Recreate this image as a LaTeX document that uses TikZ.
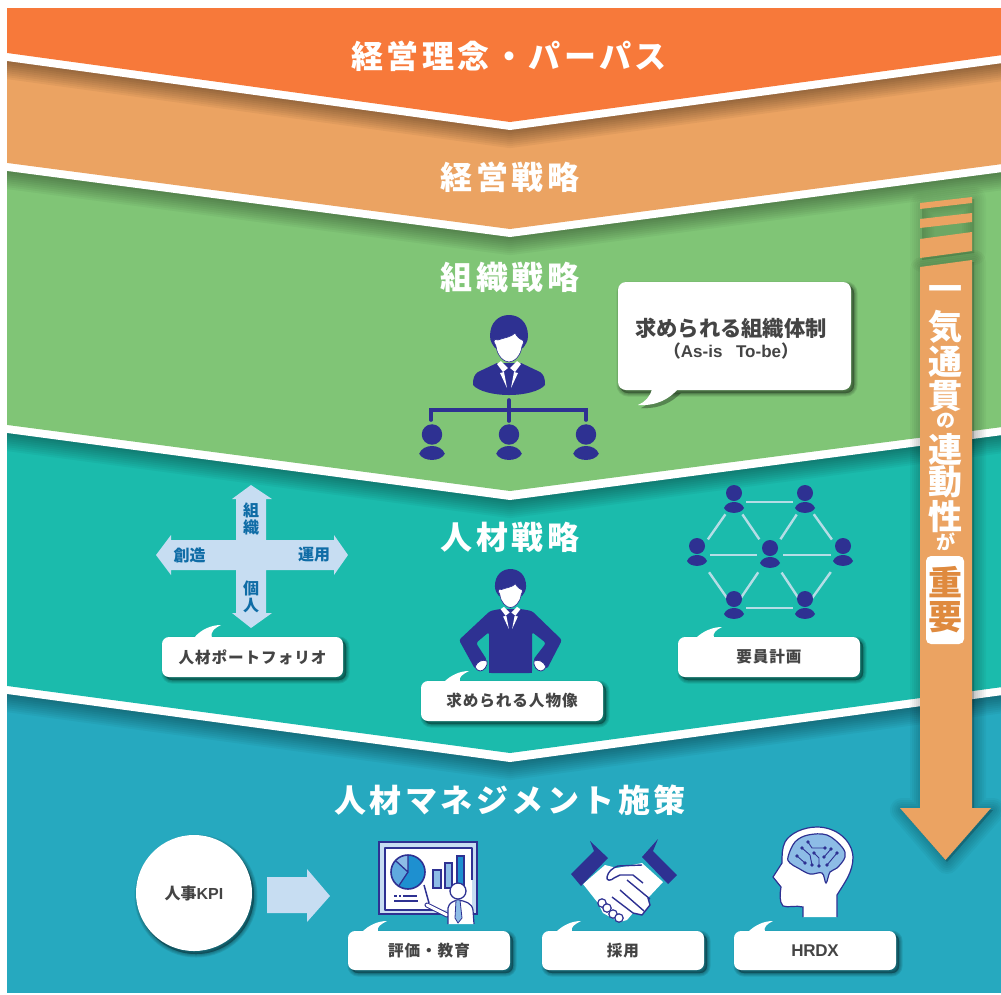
\documentclass[tikz,border=0pt]{standalone}
\usepackage{fontspec}
\newfontfamily\jp{Noto Sans CJK JP}
\newfontfamily\jps[LetterSpace=11]{Noto Sans CJK JP}
\newfontfamily\jpt[LetterSpace=6]{Noto Sans CJK JP}
\newfontfamily\lat{Liberation Sans}
\definecolor{cOrange}{HTML}{F7793A}
\definecolor{cSand}{HTML}{EBA362}
\definecolor{cGreen}{HTML}{80C576}
\definecolor{cTeal}{HTML}{1BBBAC}
\definecolor{cBlue}{HTML}{26A9BF}
\definecolor{cNavy}{HTML}{2E3192}
\definecolor{cPale}{HTML}{C7DDF2}
\definecolor{cInk}{HTML}{444444}
\definecolor{cCross}{HTML}{0F6CA6}
\definecolor{cKey}{HTML}{DF8A3E}
\definecolor{cLink}{HTML}{B5DDE6}
\definecolor{cBrain}{HTML}{8DBCE6}
\definecolor{cPie}{HTML}{1E90D0}
\definecolor{cPieB}{HTML}{5FA9DF}
\tikzset{
  title/.style={text=white,inner sep=0pt,font=\jps\bfseries\fontsize{32}{32}\selectfont},
  vchar/.style={text=white,inner sep=0pt,font=\jp\bfseries\fontsize{34}{34}\selectfont},
  vsmall/.style={text=white,inner sep=0pt,font=\jp\bfseries\fontsize{19}{19}\selectfont},
  crosstext/.style={text=cCross,inner sep=0pt,font=\jp\bfseries\fontsize{16}{16}\selectfont},
  cardtext/.style={text=cInk,inner sep=0pt,font=\jpt\bfseries},
  link/.style={cLink,line width=2.4pt},
  org/.style={cNavy,line width=3.6pt,line cap=round},
  thin/.style={cNavy,line width=1.3pt,line join=round},
  smallperson/.pic={
    \fill[cNavy] (0,-9) circle[radius=8];
    \fill[cNavy] (-10,6) .. controls (-7,-2) and (7,-2) .. (10,6) .. controls (7,12.5) and (-7,12.5) .. (-10,6) -- cycle;
  },
  exechead/.pic={
    \fill[cNavy] (-19,2) .. controls (-19,-12) and (-10,-19) .. (0,-19) .. controls (10,-19) and (19,-12) .. (19,2) .. controls (19,8) and (16,11) .. (14,14) -- (-14,14) .. controls (-16,11) and (-19,8) .. (-19,2) -- cycle;
    \fill[white,draw=cNavy,line width=.6pt] (-15,8) .. controls (-15,5) and (-13,5) .. (-11,6) .. controls (-6,4) and (3,3) .. (6,-1) .. controls (8,3) and (11,5) .. (13,6) .. controls (15,5) and (15,8) .. (14,10) -- (13,12) .. controls (12,22) and (5,28) .. (0,28) .. controls (-5,28) and (-12,22) .. (-13,12) -- cycle;
    \fill[white] (-12,30) -- (-8,27) -- (-1,34) -- (-6,38) -- cycle;
    \fill[white] (12,30) -- (8,27) -- (1,34) -- (6,38) -- cycle;
    \fill[white] (-9,39) -- (-5,38) -- (-2,54) -- cycle;
    \fill[white] (9,39) -- (5,38) -- (2,54) -- cycle;
  }
}
% name, cx, cy, w, h, tipx, tipy, b1, b2, font size, text
\newcommand\labelcard[9]{%
  \def\cardname{#1}\def\cardcx{#2}\def\cardcy{#3}\def\cardw{#4}\def\cardh{#5}%
  \def\cardtx{#6}\def\cardty{#7}\def\cardba{#8}\def\cardbb{#9}\labelcardtail}
\newcommand\labelcardtail[2]{%
  \pgfmathsetmacro\cardyb{\cardcy-\cardh/2+1}%
  \foreach \s in {7,5,3,1}{
    \draw[black,fill=black,opacity=.09,line width=\s pt,rounded corners=7pt]
      ({\cardcx-\cardw/2+3},{\cardcy-\cardh/2+3}) rectangle ({\cardcx+\cardw/2+3},{\cardcy+\cardh/2+3});
  }
  \fill[white] (\cardba,\cardyb) .. controls ({\cardba+7},{\cardty+4}) and ({\cardtx-9},\cardty) .. (\cardtx,\cardty) .. controls ({\cardtx-6},{\cardty+3}) and ({\cardbb-2},{\cardty+6}) .. (\cardbb,\cardyb) -- cycle;
  \node[cardtext,fill=white,rounded corners=7pt,minimum width=\cardw pt,minimum height=\cardh pt,outer sep=0pt] (\cardname) at (\cardcx,\cardcy) {\fontsize{#1}{#1}\selectfont\raisebox{-1.2pt}{#2}};
}
\begin{document}
\begin{tikzpicture}[x=1pt,y=-1pt]
\useasboundingbox (0,0) rectangle (1001,994);
\fill[white] (0,0) rectangle (1001,994);
\begin{scope}
\clip (7,8) rectangle (1001,993);
% blue layer
\fill[cBlue] (7,600) rectangle (1001,993);
\foreach \w in {4,8,...,36}{\draw[black,opacity=.04,line width=\w pt] (0,693) -- (510,762) -- (1010,694);}
\fill[white] (0,400) -- (1010,400) -- (1010,694) -- (510,762) -- (0,693) -- cycle;
% teal layer
\fill[cTeal] (0,400) -- (1010,400) -- (1010,686) -- (510,753) -- (0,685) -- cycle;
\foreach \w in {4,8,...,36}{\draw[black,opacity=.04,line width=\w pt] (0,432) -- (510,500) -- (1010,434);}
\fill[white] (0,150) -- (1010,150) -- (1010,434) -- (510,500) -- (0,432) -- cycle;
% green layer
\fill[cGreen] (0,150) -- (1010,150) -- (1010,426) -- (510,491) -- (0,424) -- cycle;
\foreach \w in {4,8,...,36}{\draw[black,opacity=.04,line width=\w pt] (0,170) -- (510,237) -- (1010,171);}
\fill[white] (0,40) -- (1010,40) -- (1010,171) -- (510,237) -- (0,170) -- cycle;
% sand layer
\fill[cSand] (0,40) -- (1010,40) -- (1010,163) -- (510,229) -- (0,162) -- cycle;
\foreach \w in {4,8,...,36}{\draw[black,opacity=.045,line width=\w pt] (0,60) -- (510,130) -- (1010,62);}
\fill[white] (0,0) -- (1010,0) -- (1010,62) -- (510,130) -- (0,60) -- cycle;
% orange layer
\fill[cOrange] (0,0) -- (1010,0) -- (1010,54) -- (510,122) -- (0,52) -- cycle;
\end{scope}
% titles
\node[title] (t1) at (509,56) {経営理念・パーパス};
\node[title] (t2) at (510,177) {経営戦略};
\node[title] (t3) at (510,277) {組織戦略};
\node[title] (t4) at (510,537) {人材戦略};
\node[title] (t5) at (510,800) {人材マネジメント施策};
% vertical arrow with shadow
\foreach \w in {24,20,16,12,8,4}{
  \draw[black,fill=black,opacity=.035,line width=\w pt,line join=round]
    (922,269) -- (974,262) -- (974,810) -- (993,810) -- (947,862) -- (902,810) -- (922,810) -- cycle;
  \draw[black,fill=black,opacity=.025,line width=\w pt,line join=round]
    (922,205) -- (974,199) -- (974,253) -- (922,260) -- cycle;
}
\fill[cSand] (920,203) -- (972,197) -- (972,203) -- (920,209) -- cycle;
\fill[cSand] (920,219) -- (972,213) -- (972,222) -- (920,228) -- cycle;
\fill[cSand] (920,239) -- (972,232) -- (972,251) -- (920,258) -- cycle;
\fill[cSand] (920,267) -- (972,260) -- (972,808) -- (991,808) -- (945.5,860) -- (900,808) -- (920,808) -- cycle;
\node[vchar] (v1) at (945.5,294) {一};
\node[vchar] (v2) at (945.5,327) {気};
\node[vchar] (v3) at (945.5,362) {通};
\node[vchar] (v4) at (945.5,396) {貫};
\node[vsmall] (v5) at (945.5,421) {の};
\node[vchar] (v6) at (945.5,449) {連};
\node[vchar] (v7) at (945.5,482) {動};
\node[vchar] (v8) at (945.5,517) {性};
\node[vsmall] (v9) at (945.5,542) {が};
\fill[white,rounded corners=5pt] (926,556) rectangle (964,644);
\node[vchar,text=cKey] (v10) at (945.5,582) {重};
\node[vchar,text=cKey] (v11) at (945.5,617) {要};
% speech bubble
\foreach \s in {7,5,3,1}{
  \draw[black,fill=black,opacity=.09,line width=\s pt,rounded corners=8pt] (620,285) rectangle (854,393);
  \fill[black,opacity=.09] (655,393) .. controls (652,400) and (648,405) .. (641,408) .. controls (660,409) and (672,402) .. (681,393) -- cycle;
}
\fill[white] (652,389) .. controls (650,397) and (645,402) .. (638,405) .. controls (657,406) and (669,399) .. (678,389) -- cycle;
\node[fill=white,rounded corners=8pt,minimum width=233pt,minimum height=108pt,inner sep=0pt,outer sep=0pt] (bubble) at (734.5,336) {};
\node[cardtext,font=\jp\bfseries\fontsize{21.3}{21.3}\selectfont] (b1) at (731,328) {求められる組織体制};
\node[cardtext,font=\lat\bfseries\fontsize{17}{17}\selectfont] (b2) at (731,351) {{\jp（}As-is\hspace{.8em}To-be{\jp）}};
% manager and org chart
\fill[cNavy] (473,385) .. controls (473,378) and (474,375) .. (478,372) -- (497,363) -- (521,363) -- (540,372) .. controls (544,375) and (545,378) .. (545,385) .. controls (540,391) and (525,395) .. (509,395) .. controls (493,395) and (478,391) .. (473,385) -- cycle;
\pic at (509,334) {exechead};
\coordinate (orgtop) at (509,400);
\coordinate (orgmid) at (509,410);
\coordinate (orgl) at (431,420);
\coordinate (orgc) at (509,421);
\coordinate (orgr) at (586,420);
\draw[org] (orgtop) -- (orgc);
\draw[org] (orgl) |- (orgmid) -| (orgr);
\pic[scale=1.28] at (432,446) {smallperson};
\pic[scale=1.28] at (509,446) {smallperson};
\pic[scale=1.28] at (586,446) {smallperson};
% cross
\fill[cPale] (251,485) -- (272,499) -- (266,499) -- (266,540) -- (334,540) -- (334,535) -- (348,555) -- (334,575) -- (334,570) -- (266,570) -- (266,613) -- (272,613) -- (251,628) -- (232,613) -- (236,613) -- (236,570) -- (171,570) -- (171,575) -- (156,555) -- (171,535) -- (171,540) -- (236,540) -- (236,499) -- (232,499) -- cycle;
\node[crosstext] (c1) at (251,510) {組};
\node[crosstext] (c2) at (251,527) {織};
\node[crosstext] (c3) at (189.5,555) {創造};
\node[crosstext] (c4) at (314,555) {運用};
\node[crosstext] (c5) at (251,588) {個};
\node[crosstext] (c6) at (251,606) {人};
\labelcard{cardA}{252.5}{657}{181}{40}{221}{625}{194}{212}{15.6}{人材ポートフォリオ}
% person with arms
\fill[cNavy,rounded corners=2.5pt] (500,609) -- (490,611) -- (459,640) -- (475,669) -- (487,660) -- (476,643) -- (489,632) -- (489,673) -- (532,673) -- (532,632) -- (546,643) -- (533,660) -- (547,669) -- (562,640) -- (532,611) -- (521,609) -- cycle;
\fill[cNavy] (489,660) rectangle (532,673);
\fill[white,draw=cNavy,line width=.8pt] (475,667) .. controls (477,661) and (483,659) .. (487,661) .. controls (488,666) and (484,671) .. (480,671) .. controls (478,671) and (476,669) .. (475,667) -- cycle;
\fill[white,draw=cNavy,line width=.8pt] (546,667) .. controls (544,661) and (538,659) .. (534,661) .. controls (533,666) and (537,671) .. (541,671) .. controls (543,671) and (545,669) .. (546,667) -- cycle;
\pic[scale=.82] at (510.5,584.6) {exechead};
\labelcard{cardB}{512}{701}{182}{40}{469}{671}{444}{460}{15.6}{求められる人物像}
% network
\coordinate (na) at (734,502);
\coordinate (nb) at (805,502);
\coordinate (nc) at (697,555);
\coordinate (nd) at (770,555);
\coordinate (ne) at (843,555);
\coordinate (nf) at (734,608);
\coordinate (ng) at (805,608);
\draw[link,shorten <=12pt,shorten >=12pt] (na) -- (nb);
\draw[link,shorten <=13pt,shorten >=13pt] (nc) -- (nd);
\draw[link,shorten <=13pt,shorten >=12pt] (nd) -- (ne);
\draw[link,shorten <=12pt,shorten >=12pt] (nf) -- (ng);
\draw[link,shorten <=15pt,shorten >=19pt] (na) -- (nc);
\draw[link,shorten <=15pt,shorten >=19pt] (na) -- (nd);
\draw[link,shorten <=15pt,shorten >=19pt] (nb) -- (nd);
\draw[link,shorten <=15pt,shorten >=19pt] (nb) -- (ne);
\draw[link,shorten <=21pt,shorten >=12pt] (nc) -- (nf);
\draw[link,shorten <=21pt,shorten >=12pt] (nd) -- (nf);
\draw[link,shorten <=21pt,shorten >=12pt] (nd) -- (ng);
\draw[link,shorten <=21pt,shorten >=12pt] (ne) -- (ng);
\pic at (na) {smallperson};
\pic at (nb) {smallperson};
\pic at (nc) {smallperson};
\pic at (770,557) {smallperson};
\pic at (ne) {smallperson};
\pic at (nf) {smallperson};
\pic at (ng) {smallperson};
\labelcard{cardC}{769}{657}{182}{40}{722}{627}{696}{714}{15.6}{要員計画}
% KPI circle and arrow
\foreach \s in {7,5,3,1}{\draw[black,fill=black,opacity=.09,line width=\s pt] (196,896) circle[radius=58];}
\node[circle,fill=white,minimum size=116pt,inner sep=0pt,outer sep=0pt,text=cInk,font=\jp\bfseries\fontsize{16}{16}\selectfont] (kpi) at (194,893) {\raisebox{-1pt}{人事{\lat\bfseries KPI}}};
\fill[cPale] (267,877) -- (307,877) -- (307,869) -- (330,896) -- (307,922) -- (307,913) -- (267,913) -- cycle;
% board icon
\fill[cPale,draw=cNavy,line width=1.6pt] (379,842) rectangle (477,914);
\fill[white] (385,848) rectangle (472,910);
\draw[thin,line width=1.6pt] (472,880) -- (472,848) -- (385,848) -- (385,910) -- (440,910);
\begin{scope}
\clip (408,872) circle[radius=17];
\fill[cPie] (390,850) rectangle (430,895);
\fill[cBrain] (408,872) -- (408,850) -- (386,852) -- cycle;
\fill[cPieB] (408,872) -- (386,852) -- (380,870) -- (385,895) -- (398,888) -- cycle;
\draw[thin] (408,855) -- (408,872) -- (396,861);
\draw[thin] (408,872) -- (398,887);
\end{scope}
\draw[thin,line width=1.6pt] (408,872) circle[radius=17];
\fill[cBrain,draw=cNavy,line width=1.2pt] (433,870) rectangle (441,888);
\fill[cBrain,draw=cNavy,line width=1.2pt] (445,863) rectangle (452,888);
\fill[cPie,draw=cNavy,line width=1.2pt] (457,856) rectangle (464,887);
\draw[thin,line width=1.5pt,dash pattern=on 3pt off 2pt on 2pt off 2pt on 11pt off 0pt] (394,896) -- (418,896);
\draw[thin,line width=1.5pt] (394,901) -- (418,901);
\draw[thin,line width=1.5pt] (424,885) -- (429,903);
\draw[cNavy,line width=5pt,line cap=round] (427,905) -- (447,915);
\draw[white,line width=3pt,line cap=round] (427,905) -- (447,915);
\fill[white,draw=cNavy,line width=1.2pt] (448,924) -- (448,908) .. controls (449,903) and (453,901) .. (458,900) .. controls (465,901) and (472,903) .. (473,910) -- (474,924);
\fill[cBrain,draw=cNavy,line width=.8pt] (456,900) -- (460,900) -- (462,918) -- (458,923) -- (455,918) -- cycle;
\fill[white,draw=cNavy,line width=1.3pt] (458,891) circle[radius=8];
\labelcard{cardD}{429}{950.5}{162}{39}{387}{921}{362}{378}{15.6}{評価・教育}
% handshake
\fill[white] (605,865) -- (617,868) -- (642,863) -- (663,882) -- (648,898) -- (650,905) -- (642,915) -- (633,913) -- (627,920) -- (620,922) -- (612,918) -- (603,913) -- (598,903) -- (583,884) -- cycle;
\fill[cNavy] (571,874) -- (594,851) -- (590,841) -- (608,858) -- (581,886) -- cycle;
\fill[cNavy] (677,875) -- (653,851) -- (658,839) -- (642,857) -- (668,884) -- cycle;
\draw[thin,line width=1.4pt] (642,865) -- (618,866) .. controls (612,868) and (608,872) .. (607,877) .. controls (606,881) and (611,881) .. (614,878) -- (620,875) -- (633,875) -- (643,883);
\draw[thin,line width=1.4pt] (650,899) -- (627,880);
\draw[thin,line width=1.4pt] (644,911) -- (620,890);
\draw[thin,line width=1.4pt] (633,913) -- (612,897);
\draw[thin,line width=1.4pt] (648,898) -- (650,905) -- (642,915) -- (633,913);
\foreach \p/\q in {602/903,607/908,613/914,619/918}{\fill[white,draw=cNavy,line width=1.2pt] (\p,\q) circle[radius=4.2];}
\labelcard{cardE}{623}{950.5}{162}{39}{581}{921}{556}{572}{15.6}{採用}
% head and brain
\fill[white,draw=cNavy,line width=1.2pt] (803,917) -- (803,907) .. controls (796,905) and (788,908) .. (783,906) .. controls (779,902) and (780,893) .. (781,887) -- (773,877) -- (782,863) .. controls (782,855) and (782,848) .. (785,842) .. controls (790,833) and (804,827) .. (817,827) .. controls (836,827) and (852,840) .. (853,857) .. controls (853,872) and (845,882) .. (837,895) -- (837,917);
\fill[white] (803.6,910) rectangle (836.4,917);
\fill[cBrain,draw=cNavy,line width=1.2pt] plot[smooth cycle,tension=.6] coordinates {(788,857) (795,842) (808,835) (827,835) (842,847) (845,857) (837,868) (830,872) (826,883) (822,873) (810,874) (798,868) (790,863)};
\draw[thin,line width=.9pt] (808,842) -- (812,848) -- (825,848);
\draw[thin,line width=.9pt] (802,848) -- (810,855) -- (812,865);
\draw[thin,line width=.9pt] (797,856) -- (805,863);
\draw[thin,line width=.9pt] (814,853) -- (819,858) -- (819,866);
\draw[thin,line width=.9pt] (837,853) -- (827,865);
\draw[thin,line width=.9pt] (831,849) -- (824,857);
\foreach \p/\q in {808/842,825/848,802/848,812/865,797/856,805/863,814/853,819/866,837/853,827/865,831/849,824/857}{\fill[cNavy] (\p,\q) circle[radius=1.8];}
\labelcard{cardF}{815}{950.5}{162}{39}{773}{921}{748}{765}{17}{{\lat\bfseries\addfontfeature{LetterSpace=-2}HRDX}}
\end{tikzpicture}
\end{document}
